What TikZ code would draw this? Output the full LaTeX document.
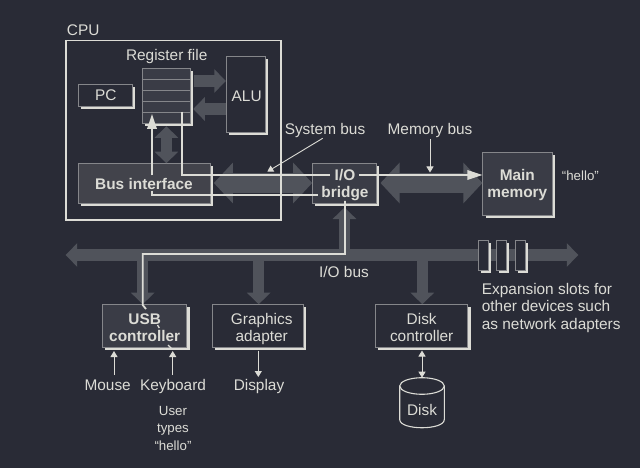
\documentclass[tikz,border=0pt]{standalone}
\usepackage{fontspec}
\setmainfont{Liberation Sans}
\usetikzlibrary{arrows.meta}
\definecolor{bgc}{HTML}{292B36}
\definecolor{lt}{HTML}{DCDCD6}
\definecolor{busc}{HTML}{50535B}
\definecolor{edgec}{HTML}{85868A}
\definecolor{fa}{HTML}{3A3C46}
\definecolor{fb}{HTML}{42434B}
\tikzset{
  x=1pt,y=-1pt,
  txt/.style={text=lt,inner sep=0pt,anchor=base,font=\fontsize{15.4}{17.6}\selectfont},
  small/.style={text=lt,inner sep=0pt,anchor=base,font=\fontsize{13.3}{17.5}\selectfont},
  bf/.style={txt,font=\fontsize{15.4}{17.6}\selectfont\bfseries},
  boxbase/.style={draw=edgec,line width=1pt,inner sep=0pt},
  bus/.style={draw=busc,line width=11.5pt},
  busone/.style={bus,-{Triangle[length=11.5pt,width=23pt]}},
  bustwo/.style={bus,{Triangle[length=11.5pt,width=23pt]}-{Triangle[length=11.5pt,width=23pt]}},
  busbig/.style={draw=busc,line width=20pt,{Triangle[length=19pt,width=39.5pt]}-{Triangle[length=19pt,width=39.5pt]}},
  wire/.style={draw=lt,line width=1.8pt},
  wirehead/.style={wire,-{Triangle[length=15pt,width=9.5pt]}},
  thin arrow/.style={draw=lt,line width=.9pt,-{Triangle[length=6pt,width=7pt]}},
  thin both/.style={draw=lt,line width=.9pt,{Triangle[length=6pt,width=7pt]}-{Triangle[length=6pt,width=7pt]}},
}
% name, cx, cy, w, h, fill
\newcommand\shadowedbox[6]{%
  \node[minimum width=#4pt,minimum height=#5pt,fill=lt,inner sep=0pt] (#1-sh) at (#2+2.6,#3+2.6) {};
  \node[boxbase,fill=#6,minimum width=#4pt,minimum height=#5pt] (#1) at (#2,#3) {};
}
\begin{document}
\begin{tikzpicture}
\fill[bgc] (0,0) rectangle (640,468);
\useasboundingbox (0,0) rectangle (640,468);

% buses behind everything
\coordinate (busL) at (65.7,255);
\coordinate (busR) at (578.3,255);
\coordinate (busJ1) at (142.7,255);
\coordinate (busJ2) at (258.7,255);
\coordinate (busJ3) at (422.3,255);
\coordinate (busJ4) at (344.5,255);
\draw[bustwo] (busL) -- (busR);

% slots
\shadowedbox{slotA}{483.3}{255.5}{10}{30.5}{bgc}
\shadowedbox{slotB}{501.8}{255.5}{10}{30.5}{bgc}
\shadowedbox{slotC}{520.5}{255.5}{10}{30.5}{bgc}

% boxes
\shadowedbox{pc}{105.7}{95.2}{54}{21.7}{bgc}
\shadowedbox{alu}{246}{94.5}{39.4}{75.6}{bgc}
\shadowedbox{reg}{166.4}{96}{48.7}{54.6}{fa}
\shadowedbox{busif}{144.2}{183.7}{131.7}{40}{fb}
\shadowedbox{bridge}{344.7}{183.7}{64}{40}{fa}
\shadowedbox{mem}{517.8}{184}{69.7}{63.4}{fa}
\shadowedbox{usb}{144.8}{326.2}{84.3}{43}{fa}
\shadowedbox{gfx}{258.2}{326.2}{91}{43}{bgc}
\shadowedbox{dctl}{421.8}{326.2}{92.3}{43}{bgc}

% register rows
\foreach \ry in {79.3,90.3,101.3,112.3}
  \draw[edgec,line width=.8pt] (reg.west |- 0,\ry) -- (reg.east |- 0,\ry);

% bus arrows
\draw[busone] (reg.east |- 0,81) ++(3,0) -- (alu.west |- 0,81);
\draw[busone] (alu.west |- 0,109) -- ([xshift=2pt]reg.east |- 0,109);
\draw[bustwo] ([yshift=-2.5pt]reg.south) -- (busif.north -| reg.south);
\draw[busone] (busJ1) -- (usb.north -| busJ1);
\draw[busone] (busJ2) -- (gfx.north -| busJ2);
\draw[busone] (busJ3) -- (dctl.north -| busJ3);
\draw[busone] (busJ4) -- ([yshift=-1pt]bridge-sh.south -| busJ4);
\draw[busbig] ([xshift=1pt]busif-sh.east |- 0,183) -- (bridge.west |- 0,183);
\draw[busbig] ([xshift=1pt]bridge-sh.east |- 0,183) -- (mem.west |- 0,183);

% CPU frame
\node[draw=lt,line width=1.5pt,minimum width=215pt,minimum height=179.3pt,inner sep=0pt] (cpu) at (173.5,130.3) {};

% labels
\node[txt,anchor=base west] (cpul) at (66.7,35.5) {CPU};
\node[txt] (regl) at (166.7,61) {Register file};
\node[txt] (pcl) at (105.7,101) {PC};
\node[txt] (alul) at (246.7,101.3) {ALU};
\node[bf] (bi) at (144,189.3) {Bus interface};
\node[bf] (bridgeio) at (345,180) {I/O};
\node[bf] (bridgeb) at (345,197.3) {bridge};
\node[bf] (mem1) at (517.3,180) {Main};
\node[bf] (mem2) at (517.3,197.3) {memory};
\node[bf] (usb1) at (144.7,324.5) {USB};
\node[bf] (usb2) at (144.7,341.5) {controller};
\node[txt] (gfx1) at (261.7,324.5) {Graphics};
\node[txt] (gfx2) at (261.7,341.5) {adapter};
\node[txt] (dctl1) at (421.7,324.5) {Disk};
\node[txt] (dctl2) at (421.7,341.5) {controller};
\node[txt] (sysl) at (325,135) {System bus};
\node[txt] (meml) at (430,135) {Memory bus};
\node[small,anchor=base west] (hello) at (561.7,180.7) {“hello”};
\node[txt] (iol) at (344,277.2) {I/O bus};
\node[txt] (mouse) at (107.7,390.3) {Mouse};
\node[txt] (kbd) at (173,390.3) {Keyboard};
\node[txt] (disp) at (259,390.3) {Display};
\node[small] (user1) at (173,415.3) {User};
\node[small] (user2) at (173,432.3) {types};
\node[small] (user3) at (173,450) {“hello”};
\node[txt,anchor=base west] (exp1) at (481.7,294) {Expansion slots for};
\node[txt,anchor=base west] (exp2) at (481.7,311.3) {other devices such};
\node[txt,anchor=base west] (exp3) at (481.7,329) {as network adapters};

% wires
\coordinate (regout) at (181.7,111.7);
\coordinate (regin) at (152,114);
\draw[wire] (regout) -- (regout |- 0,175) -- ([xshift=-5pt]bridgeio.west |- 0,175);
\draw[wirehead] ([xshift=4pt]bridgeio.east |- 0,175) -- (mem.west |- 0,175);
\draw[wirehead] (regin |- 0,175.5) -- (regin);
\draw[wire] (152,190.5) -- (152,195) -- ([xshift=-3pt]bridgeb.west |- 0,195);
\draw[wire] (bridgeb.south) -- (345,254) -- (142.7,254) -- (142.7,305) -- (146,309);
\draw[wire,line width=1.3pt] (157.5,325) -- (159.3,328);
\draw[wire,line width=1.3pt] (168,345) -- (172,349);

% thin pointers
\draw[thin arrow] (322.7,138.3) -- (267.3,171.7);
\draw[thin arrow] (430,139) -- (430,172.5);
\draw[thin arrow] (114,375) -- (114,351);
\draw[thin arrow] (172.7,375) -- (172.7,351);
\draw[thin arrow] (gfx-sh.south -| 258.3,0) -- (258.3,377);

% disk
\coordinate (diskT) at (422,377.7);
\draw[lt,line width=1.1pt] (422,386) ellipse [x radius=22.3,y radius=8.3];
\draw[lt,line width=1.1pt] (399.7,386) -- (399.7,419.5) .. controls (399.7,430.5) and (444.3,430.5) .. (444.3,419.5) -- (444.3,386);
\node[txt] (diskl) at (422,415) {Disk};
\draw[thin both] (dctl-sh.south -| diskT) -- (diskT);
\end{tikzpicture}
\end{document}
